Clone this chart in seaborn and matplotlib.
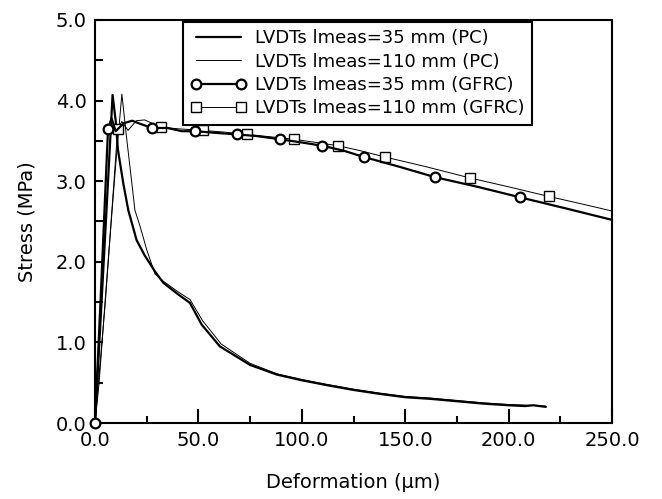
import numpy as np
import seaborn as sns
import matplotlib.pyplot as plt
from matplotlib.lines import Line2D
from matplotlib.ticker import MultipleLocator, FormatStrFormatter

# PC, LVDTs lmeas = 35 mm (thick line)
pc35_x = [0, 2, 4, 6, 8.5, 10, 11.1, 13.7, 16.1, 20.1, 24, 29, 33, 40, 45.9, 51.6,
          60.4, 75, 88, 100, 112, 125, 138, 150, 162, 175, 188, 200, 208, 212, 218]
pc35_y = [0, 0.95, 1.9, 2.85, 4.07, 3.75, 3.39, 2.97, 2.64, 2.27, 2.08, 1.88, 1.74, 1.6,
          1.49, 1.22, 0.95, 0.72, 0.6, 0.53, 0.47, 0.41, 0.36, 0.32, 0.3, 0.27, 0.24,
          0.22, 0.21, 0.22, 0.2]

# PC, LVDTs lmeas = 110 mm (thin line)
pc110_x = [0, 2, 5, 8, 10, 13, 15, 16.9, 19.3, 21.8, 25, 29, 33, 40, 46, 52,
           61, 75, 88, 100, 112, 125, 138, 150, 162, 175, 188, 200, 210, 218]
pc110_y = [0, 0.5, 1.55, 2.55, 3.2, 4.08, 3.6, 3.18, 2.64, 2.44, 2.15, 1.85, 1.76, 1.63,
           1.53, 1.27, 0.98, 0.74, 0.61, 0.54, 0.48, 0.42, 0.37, 0.33, 0.31, 0.28, 0.25,
           0.23, 0.22, 0.21]

# GFRC, LVDTs lmeas = 35 mm (thick line, circles)
gf35_x = [0, 3, 6.3, 8, 10, 14, 18, 22, 27.6, 35, 42, 48.4, 58, 68.7, 78, 89.5, 100,
          109.8, 120, 130, 147, 164.4, 185, 205.5, 228, 250]
gf35_y = [0, 1.7, 3.65, 3.78, 3.62, 3.72, 3.75, 3.71, 3.66, 3.66, 3.62, 3.62, 3.6, 3.58,
          3.56, 3.52, 3.48, 3.44, 3.38, 3.3, 3.18, 3.05, 2.93, 2.8, 2.66, 2.52]
gf35_marks = [0, 2, 8, 11, 13, 15, 17, 19, 21, 23]

# GFRC, LVDTs lmeas = 110 mm (thin line, squares)
gf110_x = [0, 5, 11, 13, 16, 20, 24, 31.9, 40, 52.2, 62, 73.5, 85, 96.2, 107, 117.5,
           128, 140.2, 160, 181.3, 200, 219.5, 235, 250]
gf110_y = [0, 1.5, 3.65, 3.74, 3.63, 3.75, 3.76, 3.67, 3.65, 3.63, 3.61, 3.58, 3.55,
           3.52, 3.48, 3.44, 3.38, 3.3, 3.18, 3.04, 2.93, 2.81, 2.72, 2.63]
gf110_marks = [2, 7, 9, 11, 13, 15, 17, 19, 21]

labels = ["LVDTs lmeas=35 mm (PC)", "LVDTs lmeas=110 mm (PC)",
          "LVDTs lmeas=35 mm (GFRC)", "LVDTs lmeas=110 mm (GFRC)"]

sns.set_style("white")
plt.rcParams['font.family'] = ['DejaVu Sans']
plt.rcParams['text.color'] = 'black'
plt.rcParams['axes.labelcolor'] = 'black'
plt.rcParams['xtick.color'] = 'black'
plt.rcParams['ytick.color'] = 'black'

fig = plt.figure(figsize=(6.62, 4.99), dpi=100)
ax = fig.add_axes([0.1435, 0.1523, 0.781, 0.8077])

thick = 1.6
thin = 0.7
sns.lineplot(x=pc35_x, y=pc35_y, ax=ax, color='black', lw=thick, sort=False, estimator=None)
sns.lineplot(x=pc110_x, y=pc110_y, ax=ax, color='black', lw=thin, sort=False, estimator=None)
sns.lineplot(x=gf35_x, y=gf35_y, ax=ax, color='black', lw=thick, sort=False, estimator=None,
             marker='o', markersize=7, markerfacecolor='white', markeredgecolor='black',
             markeredgewidth=1.6, markevery=gf35_marks, clip_on=False, zorder=5)
sns.lineplot(x=gf110_x, y=gf110_y, ax=ax, color='black', lw=thin, sort=False, estimator=None,
             marker='s', markersize=6.5, markerfacecolor='white', markeredgecolor='black',
             markeredgewidth=1.0, markevery=gf110_marks, zorder=4)

ax.set_xlim(0, 250)
ax.set_ylim(0, 5)
ax.xaxis.set_major_locator(MultipleLocator(50))
ax.xaxis.set_minor_locator(MultipleLocator(25))
ax.yaxis.set_major_locator(MultipleLocator(1))
ax.yaxis.set_minor_locator(MultipleLocator(0.5))
ax.xaxis.set_major_formatter(FormatStrFormatter('%.1f'))
ax.yaxis.set_major_formatter(FormatStrFormatter('%.1f'))
ax.tick_params(axis='x', which='major', direction='in', length=10, width=1.5,
               labelsize=14, bottom=True, pad=6)
ax.tick_params(axis='x', which='minor', direction='in', length=5, width=1.5, bottom=True)
ax.tick_params(axis='y', which='both', direction='in', length=6, width=1.5,
               labelsize=14, left=True, pad=6)
for s in ax.spines.values():
    s.set_linewidth(1.5)
    s.set_color('black')

ax.set_xlabel("Deformation (\u03bcm)", fontsize=14, labelpad=16)
ax.set_ylabel("Stress (MPa)", fontsize=14, labelpad=14)

handles = [
    Line2D([], [], color='black', lw=thick),
    Line2D([], [], color='black', lw=thin),
    Line2D([], [], color='black', lw=thick, marker='o', markersize=7,
           markerfacecolor='white', markeredgewidth=1.6),
    Line2D([], [], color='black', lw=thin, marker='s', markersize=6.5,
           markerfacecolor='white', markeredgewidth=1.0),
]
leg = ax.legend(handles, labels, loc='upper right', bbox_to_anchor=(0.845, 0.995),
                borderaxespad=0, fontsize=13, numpoints=2, handlelength=3.1,
                handletextpad=0.5, labelspacing=0.3, borderpad=0.4,
                fancybox=False, framealpha=1, edgecolor='black')
leg.get_frame().set_linewidth(1.5)

plt.savefig("out.png", dpi=100)
